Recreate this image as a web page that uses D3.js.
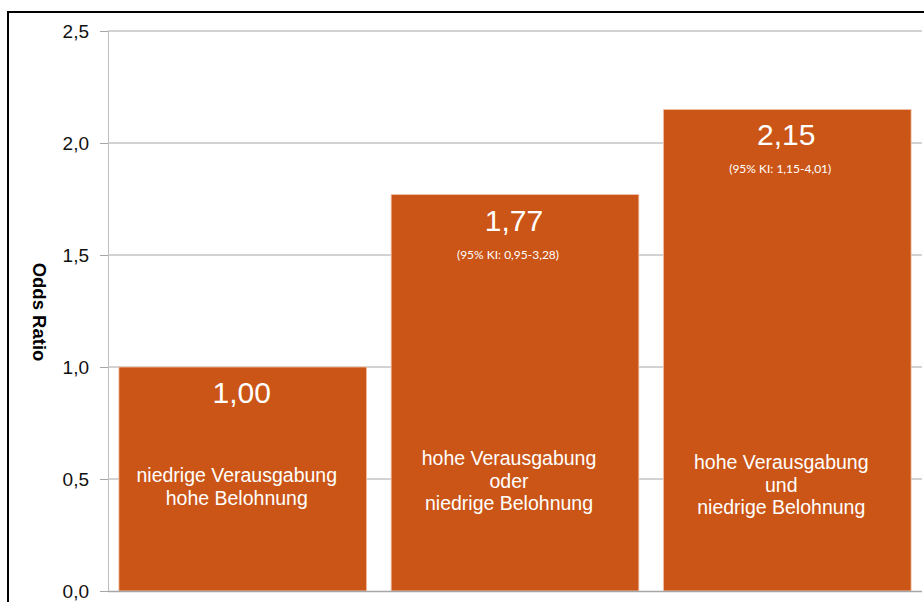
<!DOCTYPE html>
<html>
<head>
<meta charset="utf-8">
<script src="https://cdn.jsdelivr.net/npm/d3@7"></script>
<style>
  html, body { margin: 0; padding: 0; background: #fff; }
  svg { display: block; }
</style>
</head>
<body>
<svg id="chart" width="924" height="602"></svg>
<script>
// Odds ratios by effort/reward group
const groups = ["g1", "g2", "g3"];
const oddsRatios = [1.00, 1.77, 2.15];
const valueLabels = ["1,00", "1,77", "2,15"];
const ciLabels = ["", "(95% KI: 0,95-3,28)", "(95% KI: 1,15-4,01)"];
const groupLines = [
  ["niedrige Verausgabung", "hohe Belohnung"],
  ["hohe Verausgabung", "oder", "niedrige Belohnung"],
  ["hohe Verausgabung", "und", "niedrige Belohnung"]
];
const yTicks = [0, 0.5, 1.0, 1.5, 2.0, 2.5];
const yTickLabels = ["0,0", "0,5", "1,0", "1,5", "2,0", "2,5"];
const yTitle = "Odds Ratio";

(function () {
const svg = d3.select("#chart");
const barColor = "#CB5516";
const plotLeft = 108, plotTop = 31, plotBottom = 591, plotRight = 922;
const sans = "'Liberation Sans', Arial, sans-serif";

// frame
svg.append("path")
  .attr("d", `M8,${603} L8,12 L930,12`)
  .attr("fill", "none").attr("stroke", "#000").attr("stroke-width", 2);

const y = d3.scaleLinear().domain([0, 2.5]).range([plotBottom, plotTop]);
const x = d3.scaleBand().domain(groups).range([plotLeft, plotRight])
  .paddingInner(0.09).paddingOuter(0.04);

// gridlines
svg.append("g").selectAll("line").data(yTicks.slice(1)).join("line")
  .attr("x1", plotLeft).attr("x2", plotRight)
  .attr("y1", d => y(d)).attr("y2", d => y(d))
  .attr("stroke", "#A6A6A6").attr("stroke-width", 1);

// y axis
const yAxis = d3.axisLeft(y).tickValues(yTicks)
  .tickFormat((d, i) => yTickLabels[i]).tickSize(8).tickPadding(11);
const ga = svg.append("g").attr("transform", `translate(${plotLeft},0)`).call(yAxis);
ga.select(".domain").attr("stroke", "#BFBFBF").attr("d", `M0.5,${plotTop}V${plotBottom}`);
ga.selectAll(".tick line").attr("stroke", "#A6A6A6");
ga.selectAll(".tick text")
  .attr("font-family", sans)
  .attr("font-size", 19).attr("fill", "#111");

// bars
svg.append("g").selectAll("rect").data(groups).join("rect")
  .attr("x", d => x(d))
  .attr("y", (d, i) => y(oddsRatios[i]))
  .attr("width", x.bandwidth())
  .attr("height", (d, i) => plotBottom - y(oddsRatios[i]))
  .attr("fill", barColor)
  .attr("stroke", "#F2C7AE").attr("stroke-width", 0.8);

// x baseline
svg.append("line").attr("x1", plotLeft).attr("x2", plotRight)
  .attr("y1", plotBottom + 0.5).attr("y2", plotBottom + 0.5)
  .attr("stroke", "#A6A6A6").attr("stroke-width", 1.5);

const cx = (d) => x(d) + x.bandwidth() / 2;

// value labels
svg.append("g").selectAll("text").data(groups).join("text")
  .attr("x", d => cx(d) - 1)
  .attr("y", (d, i) => y(oddsRatios[i]) + 36)
  .attr("text-anchor", "middle")
  .attr("font-family", sans)
  .attr("font-size", 30).attr("fill", "#fff")
  .text((d, i) => valueLabels[i]);

// confidence intervals
svg.append("g").selectAll("text").data(groups).join("text")
  .attr("x", d => cx(d) - 7)
  .attr("y", (d, i) => y(oddsRatios[i]) + 64)
  .attr("text-anchor", "middle")
  .attr("font-family", "Lato, 'Open Sans', sans-serif")
  .attr("font-size", 12).attr("fill", "#fff")
  .text((d, i) => ciLabels[i]);

// group descriptions
const lineStart = [482, 465, 469];
groups.forEach((g, i) => {
  svg.append("text")
    .attr("text-anchor", "middle")
    .attr("font-family", sans)
    .attr("font-size", 19.5).attr("fill", "#fff")
    .selectAll("tspan").data(groupLines[i]).join("tspan")
    .attr("x", cx(g) - 6)
    .attr("y", (d, j) => lineStart[i] + j * 22.5)
    .text(d => d);
});

// axis title
svg.append("text")
  .attr("transform", `translate(33,312) rotate(90)`)
  .attr("text-anchor", "middle")
  .attr("font-family", sans)
  .attr("font-size", 18.5).attr("font-weight", "bold").attr("fill", "#000")
  .text(yTitle);
})();
</script>
</body>
</html>
